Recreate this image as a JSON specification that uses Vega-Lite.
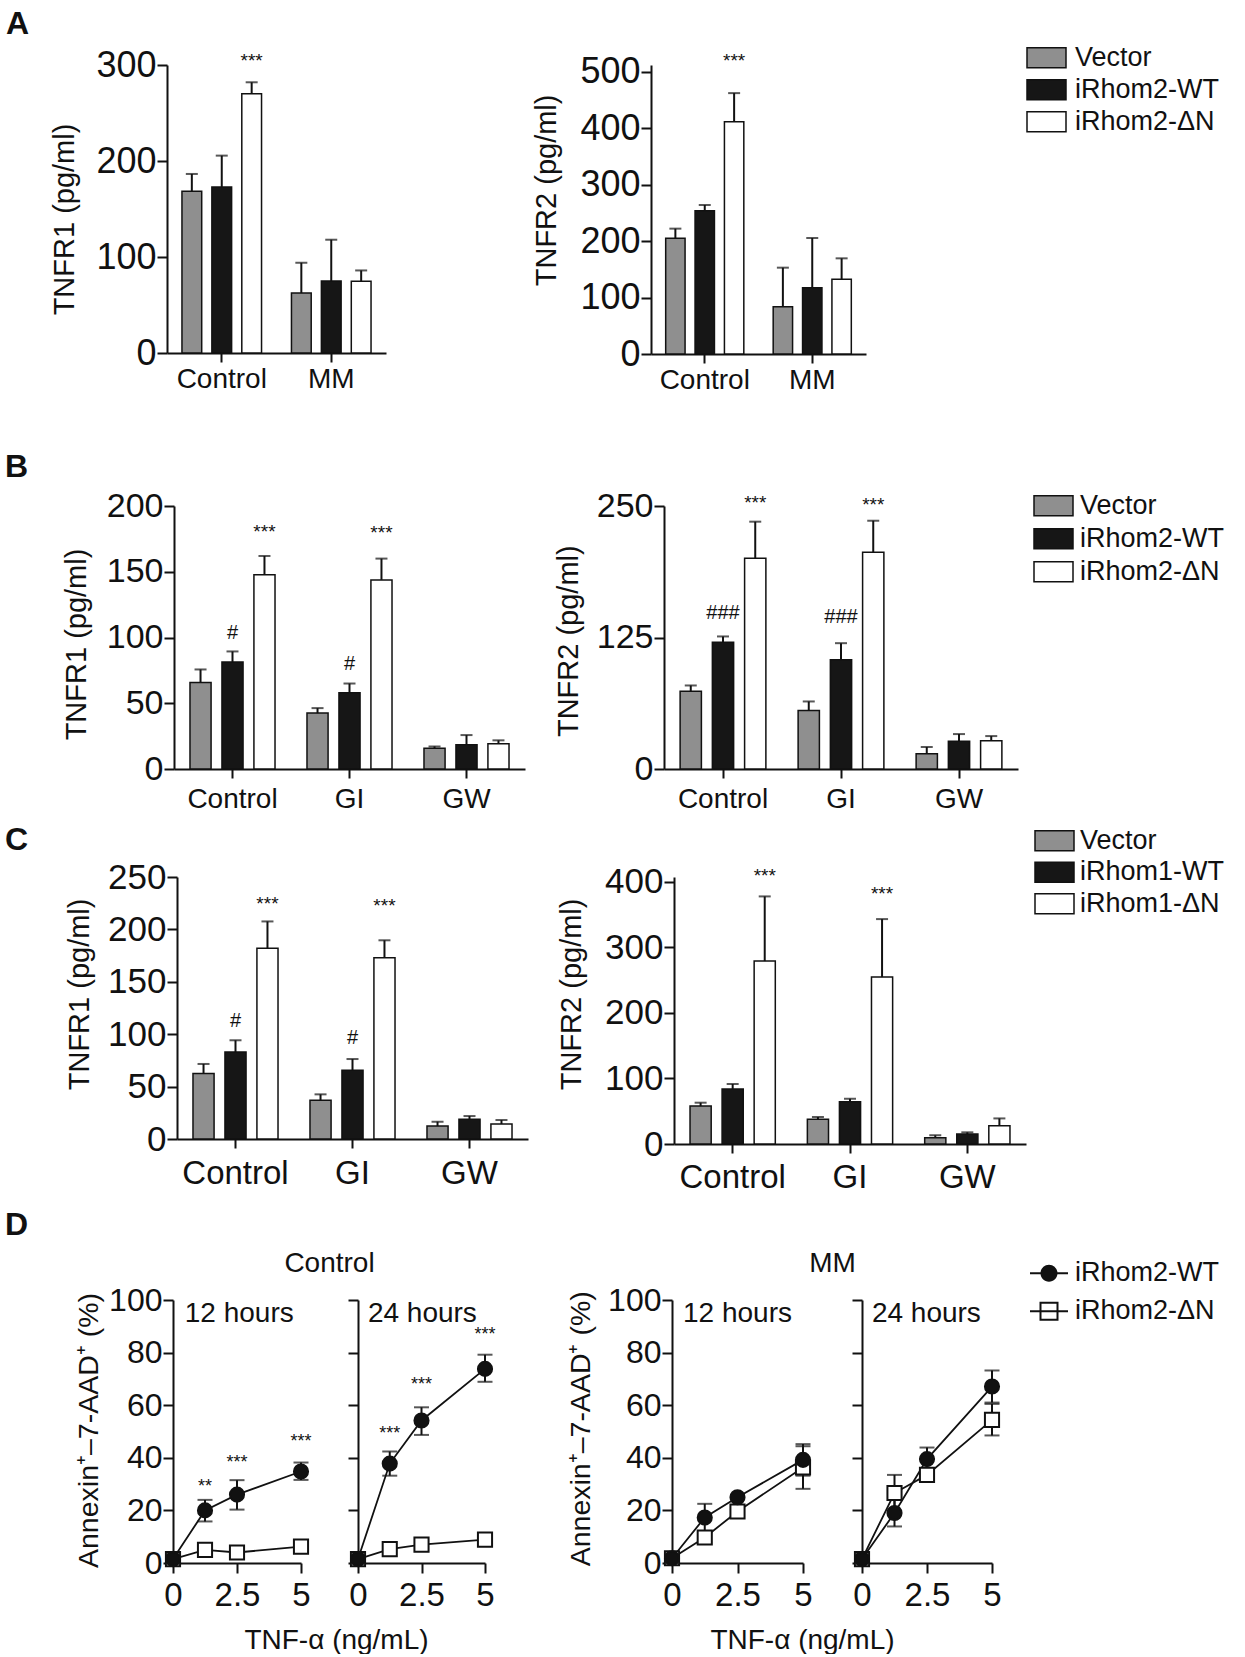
{
"$schema": "https://vega.github.io/schema/vega-lite/v6.json",
"background": "white",
"padding": {"left": 5, "top": 7, "right": 0, "bottom": 0},
"config": {
  "font": "Liberation Sans",
  "view": {"stroke": null},
  "axis": {"domainColor": "#111", "domainWidth": 2, "tickColor": "#111", "tickWidth": 2, "labelColor": "#111", "titleColor": "#111", "titleFontWeight": "normal", "grid": false, "labelFont": "Liberation Sans", "titleFont": "Liberation Sans", "labelOverlap": false, "labelFlush": false, "labelBound": false},
  "axisX": {"labelAngle": 0, "tickSize": 9},
  "axisY": {"tickSize": 10, "labelPadding": 1},
  "text": {"font": "Liberation Sans", "color": "#111"},
  "title": {"font": "Liberation Sans", "color": "#111"}
},
"datasets": {
  "bars": [
    {"p":"A1","g":"Control","s":"Vector","v":168.4,"hi":186.5},
    {"p":"A1","g":"Control","s":"iRhom2-WT","v":172.9,"hi":205.6},
    {"p":"A1","g":"Control","s":"iRhom2-ΔN","v":270.1,"hi":282},
    {"p":"A1","g":"MM","s":"Vector","v":62.5,"hi":94},
    {"p":"A1","g":"MM","s":"iRhom2-WT","v":75,"hi":118},
    {"p":"A1","g":"MM","s":"iRhom2-ΔN","v":74.7,"hi":86},
    {"p":"A2","g":"Control","s":"Vector","v":204.8,"hi":222},
    {"p":"A2","g":"Control","s":"iRhom2-WT","v":253.8,"hi":263.9},
    {"p":"A2","g":"Control","s":"iRhom2-ΔN","v":411.5,"hi":462},
    {"p":"A2","g":"MM","s":"Vector","v":83.8,"hi":152.9},
    {"p":"A2","g":"MM","s":"iRhom2-WT","v":117.5,"hi":205.4},
    {"p":"A2","g":"MM","s":"iRhom2-ΔN","v":132.2,"hi":169.4},
    {"p":"B1","g":"Control","s":"Vector","v":65.8,"hi":75.7},
    {"p":"B1","g":"Control","s":"iRhom2-WT","v":81.3,"hi":89.4},
    {"p":"B1","g":"Control","s":"iRhom2-ΔN","v":147.8,"hi":162},
    {"p":"B1","g":"GI","s":"Vector","v":42.5,"hi":46.3},
    {"p":"B1","g":"GI","s":"iRhom2-WT","v":58,"hi":65},
    {"p":"B1","g":"GI","s":"iRhom2-ΔN","v":143.8,"hi":160},
    {"p":"B1","g":"GW","s":"Vector","v":15.7,"hi":17.2},
    {"p":"B1","g":"GW","s":"iRhom2-WT","v":18.5,"hi":25.8},
    {"p":"B1","g":"GW","s":"iRhom2-ΔN","v":19.2,"hi":21.8},
    {"p":"B2","g":"Control","s":"Vector","v":74,"hi":79.4},
    {"p":"B2","g":"Control","s":"iRhom2-WT","v":120.6,"hi":126},
    {"p":"B2","g":"Control","s":"iRhom2-ΔN","v":200.3,"hi":235.1},
    {"p":"B2","g":"GI","s":"Vector","v":55.7,"hi":64.2},
    {"p":"B2","g":"GI","s":"iRhom2-WT","v":103.8,"hi":119.6},
    {"p":"B2","g":"GI","s":"iRhom2-ΔN","v":206,"hi":236},
    {"p":"B2","g":"GW","s":"Vector","v":14.6,"hi":20.9},
    {"p":"B2","g":"GW","s":"iRhom2-WT","v":26.3,"hi":33.2},
    {"p":"B2","g":"GW","s":"iRhom2-ΔN","v":26.9,"hi":31.3},
    {"p":"C1","g":"Control","s":"Vector","v":62.6,"hi":71.6},
    {"p":"C1","g":"Control","s":"iRhom1-WT","v":83,"hi":94.2},
    {"p":"C1","g":"Control","s":"iRhom1-ΔN","v":182,"hi":207.6},
    {"p":"C1","g":"GI","s":"Vector","v":36.9,"hi":42.6},
    {"p":"C1","g":"GI","s":"iRhom1-WT","v":65.5,"hi":76.3},
    {"p":"C1","g":"GI","s":"iRhom1-ΔN","v":173,"hi":189.6},
    {"p":"C1","g":"GW","s":"Vector","v":12.4,"hi":16.5},
    {"p":"C1","g":"GW","s":"iRhom1-WT","v":18.8,"hi":21.9},
    {"p":"C1","g":"GW","s":"iRhom1-ΔN","v":14.3,"hi":18.1},
    {"p":"C2","g":"Control","s":"Vector","v":57.9,"hi":63},
    {"p":"C2","g":"Control","s":"iRhom1-WT","v":83.9,"hi":91.5},
    {"p":"C2","g":"Control","s":"iRhom1-ΔN","v":279,"hi":377.6},
    {"p":"C2","g":"GI","s":"Vector","v":37.6,"hi":41.2},
    {"p":"C2","g":"GI","s":"iRhom1-WT","v":64.5,"hi":69},
    {"p":"C2","g":"GI","s":"iRhom1-ΔN","v":254.6,"hi":343},
    {"p":"C2","g":"GW","s":"Vector","v":9.7,"hi":13.2},
    {"p":"C2","g":"GW","s":"iRhom1-WT","v":15.2,"hi":17.8},
    {"p":"C2","g":"GW","s":"iRhom1-ΔN","v":28,"hi":39}
  ],
  "sig": [
    {"p":"A1","g":"Control","s":"iRhom2-ΔN","y":304.5,"t":"***"},
    {"p":"A2","g":"Control","s":"iRhom2-ΔN","y":519.4,"t":"***"},
    {"p":"B1","g":"Control","s":"iRhom2-WT","y":103.1,"t":"#"},
    {"p":"B1","g":"Control","s":"iRhom2-ΔN","y":180.5,"t":"***"},
    {"p":"B1","g":"GI","s":"iRhom2-WT","y":79.6,"t":"#"},
    {"p":"B1","g":"GI","s":"iRhom2-ΔN","y":179.5,"t":"***"},
    {"p":"B2","g":"Control","s":"iRhom2-WT","y":147.9,"t":"###"},
    {"p":"B2","g":"Control","s":"iRhom2-ΔN","y":253.3,"t":"***"},
    {"p":"B2","g":"GI","s":"iRhom2-WT","y":144.8,"t":"###"},
    {"p":"B2","g":"GI","s":"iRhom2-ΔN","y":251,"t":"***"},
    {"p":"C1","g":"Control","s":"iRhom1-WT","y":112.8,"t":"#"},
    {"p":"C1","g":"Control","s":"iRhom1-ΔN","y":223.8,"t":"***"},
    {"p":"C1","g":"GI","s":"iRhom1-WT","y":96.3,"t":"#"},
    {"p":"C1","g":"GI","s":"iRhom1-ΔN","y":222.2,"t":"***"},
    {"p":"C2","g":"Control","s":"iRhom1-ΔN","y":408.7,"t":"***"},
    {"p":"C2","g":"GI","s":"iRhom1-ΔN","y":381.2,"t":"***"}
  ],
  "lines": [
    {"c":"Control","h":12,"s":"iRhom2-ΔN","x":0,"y":1.5},
    {"c":"Control","h":12,"s":"iRhom2-ΔN","x":1.25,"y":5},
    {"c":"Control","h":12,"s":"iRhom2-ΔN","x":2.5,"y":4},
    {"c":"Control","h":12,"s":"iRhom2-ΔN","x":5,"y":6.2},
    {"c":"Control","h":24,"s":"iRhom2-ΔN","x":0,"y":1.5},
    {"c":"Control","h":24,"s":"iRhom2-ΔN","x":1.25,"y":5.3},
    {"c":"Control","h":24,"s":"iRhom2-ΔN","x":2.5,"y":7},
    {"c":"Control","h":24,"s":"iRhom2-ΔN","x":5,"y":8.9},
    {"c":"MM","h":12,"s":"iRhom2-ΔN","x":0,"y":1.8},
    {"c":"MM","h":12,"s":"iRhom2-ΔN","x":1.25,"y":9.7},
    {"c":"MM","h":12,"s":"iRhom2-ΔN","x":2.5,"y":19.6},
    {"c":"MM","h":12,"s":"iRhom2-ΔN","x":5,"y":36.3},
    {"c":"MM","h":24,"s":"iRhom2-ΔN","x":0,"y":1.5},
    {"c":"MM","h":24,"s":"iRhom2-ΔN","x":1.25,"y":26.6},
    {"c":"MM","h":24,"s":"iRhom2-ΔN","x":2.5,"y":33.5},
    {"c":"MM","h":24,"s":"iRhom2-ΔN","x":5,"y":54.4},
    {"c":"Control","h":12,"s":"iRhom2-WT","x":0,"y":1.5},
    {"c":"Control","h":12,"s":"iRhom2-WT","x":1.25,"y":20},
    {"c":"Control","h":12,"s":"iRhom2-WT","x":2.5,"y":26},
    {"c":"Control","h":12,"s":"iRhom2-WT","x":5,"y":34.8},
    {"c":"Control","h":24,"s":"iRhom2-WT","x":0,"y":1.5},
    {"c":"Control","h":24,"s":"iRhom2-WT","x":1.25,"y":37.8},
    {"c":"Control","h":24,"s":"iRhom2-WT","x":2.5,"y":54.2},
    {"c":"Control","h":24,"s":"iRhom2-WT","x":5,"y":73.8},
    {"c":"MM","h":12,"s":"iRhom2-WT","x":0,"y":1.8},
    {"c":"MM","h":12,"s":"iRhom2-WT","x":1.25,"y":17.3},
    {"c":"MM","h":12,"s":"iRhom2-WT","x":2.5,"y":25},
    {"c":"MM","h":12,"s":"iRhom2-WT","x":5,"y":39.2},
    {"c":"MM","h":24,"s":"iRhom2-WT","x":0,"y":1.5},
    {"c":"MM","h":24,"s":"iRhom2-WT","x":1.25,"y":19},
    {"c":"MM","h":24,"s":"iRhom2-WT","x":2.5,"y":39.5},
    {"c":"MM","h":24,"s":"iRhom2-WT","x":5,"y":67.1}
  ],
  "errs": [
    {"c":"Control","h":12,"s":"iRhom2-WT","x":1.25,"lo":15.8,"hi":24},
    {"c":"Control","h":12,"s":"iRhom2-WT","x":2.5,"lo":20.3,"hi":31.5},
    {"c":"Control","h":12,"s":"iRhom2-WT","x":5,"lo":31.6,"hi":38.2},
    {"c":"Control","h":24,"s":"iRhom2-WT","x":1.25,"lo":33.2,"hi":42.4},
    {"c":"Control","h":24,"s":"iRhom2-WT","x":2.5,"lo":48.7,"hi":59.2},
    {"c":"Control","h":24,"s":"iRhom2-WT","x":5,"lo":68.9,"hi":79.2},
    {"c":"MM","h":12,"s":"iRhom2-WT","x":1.25,"lo":12.1,"hi":22.5},
    {"c":"MM","h":12,"s":"iRhom2-WT","x":5,"lo":33.2,"hi":45.2},
    {"c":"MM","h":12,"s":"iRhom2-ΔN","x":5,"lo":28.2,"hi":44.4},
    {"c":"MM","h":24,"s":"iRhom2-WT","x":1.25,"lo":13.9,"hi":24.1},
    {"c":"MM","h":24,"s":"iRhom2-WT","x":2.5,"lo":35.1,"hi":43.9},
    {"c":"MM","h":24,"s":"iRhom2-WT","x":5,"lo":61,"hi":73.2},
    {"c":"MM","h":24,"s":"iRhom2-ΔN","x":1.25,"lo":19.7,"hi":33.5},
    {"c":"MM","h":24,"s":"iRhom2-ΔN","x":5,"lo":48.5,"hi":60.5}
  ],
  "dsig": [
    {"c":"Control","h":12,"x":1.25,"y":28.9,"t":"**"},
    {"c":"Control","h":12,"x":2.5,"y":38,"t":"***"},
    {"c":"Control","h":12,"x":5,"y":45.9,"t":"***"},
    {"c":"Control","h":24,"x":1.25,"y":49,"t":"***"},
    {"c":"Control","h":24,"x":2.5,"y":67.7,"t":"***"},
    {"c":"Control","h":24,"x":5,"y":86.7,"t":"***"}
  ],
  "hours": [
    {"c":"Control","h":12,"x":0.46,"y":91.6,"t":"12 hours"},
    {"c":"Control","h":24,"x":0.39,"y":91.6,"t":"24 hours"},
    {"c":"MM","h":12,"x":0.42,"y":91.6,"t":"12 hours"},
    {"c":"MM","h":24,"x":0.38,"y":91.6,"t":"24 hours"}
  ]
},
"resolve": {"scale": {"color": "independent", "xOffset": "independent", "shape": "independent", "fill": "independent"}},
"spacing": 0,
"vconcat": [
 {"hconcat": [
  {"width": 7, "height": 1, "data": {"values": []}, "mark": "point",
   "title": {"text": "A", "fontSize": 32, "fontWeight": "bold", "anchor": "start", "frame": "group", "offset": 24.3, "dx": -154}},
  {"width": 219, "height": 288,
   "encoding": {
     "x": {"field": "g", "type": "nominal", "scale": {"domain": ["Control","MM"], "paddingInner": 0, "paddingOuter": 0}, "axis": {"title": null, "labelFontSize": 28, "labelPadding": 3, "tickSize": 9, "ticks": true, "bandPosition": 0.5}},
     "xOffset": {"field": "s", "type": "nominal", "scale": {"domain": ["Vector","iRhom2-WT","iRhom2-ΔN"], "paddingInner": 0.34, "paddingOuter": 0.5}}
   },
   "layer": [
     {"data": {"name": "bars"}, "transform": [{"filter": "datum.p === 'A1'"}],
      "mark": {"type": "bar", "stroke": "#111", "strokeWidth": 1.5},
      "encoding": {
        "y": {"field": "v", "type": "quantitative", "scale": {"domain": [0, 300], "nice": false}, "axis": {"values": [0,100,200,300], "title": "TNFR1 (pg/ml)", "labelFontSize": 36, "titleFontSize": 29, "titlePadding": 16.4, "titleY": 154}},
        "color": {"field": "s", "type": "nominal", "scale": {"domain": ["Vector","iRhom2-WT","iRhom2-ΔN"], "range": ["#8f8f8f","#161616","#ffffff"]}, "legend": null}
      }},
     {"data": {"name": "bars"}, "transform": [{"filter": "datum.p === 'A1'"}],
      "mark": {"type": "rule", "color": "#111", "strokeWidth": 2},
      "encoding": {"y": {"field": "v", "type": "quantitative"}, "y2": {"field": "hi"}}},
     {"data": {"name": "bars"}, "transform": [{"filter": "datum.p === 'A1'"}],
      "mark": {"type": "tick", "color": "#111", "size": 12, "thickness": 2, "orient": "horizontal"},
      "encoding": {"y": {"field": "hi", "type": "quantitative"}}},
     {"data": {"name": "sig"}, "transform": [{"filter": "datum.p === 'A1'"}],
      "mark": {"type": "text", "fontSize": 19, "baseline": "middle"},
      "encoding": {"y": {"field": "y", "type": "quantitative"}, "text": {"field": "t"}}}
   ]},
  {"width": 265, "height": 385.4, "data": {"values": []}, "mark": "point"},
  {"width": 215, "height": 289,
   "encoding": {
     "x": {"field": "g", "type": "nominal", "scale": {"domain": ["Control","MM"], "paddingInner": 0, "paddingOuter": 0}, "axis": {"title": null, "labelFontSize": 28, "labelPadding": 3, "tickSize": 9, "ticks": true, "bandPosition": 0.5}},
     "xOffset": {"field": "s", "type": "nominal", "scale": {"domain": ["Vector","iRhom2-WT","iRhom2-ΔN"], "paddingInner": 0.34, "paddingOuter": 0.5}}
   },
   "layer": [
     {"data": {"name": "bars"}, "transform": [{"filter": "datum.p === 'A2'"}],
      "mark": {"type": "bar", "stroke": "#111", "strokeWidth": 1.5},
      "encoding": {
        "y": {"field": "v", "type": "quantitative", "scale": {"domain": [0, 511.8], "nice": false}, "axis": {"values": [0,100,200,300,400,500], "title": "TNFR2 (pg/ml)", "labelFontSize": 36, "titleFontSize": 29, "titlePadding": 18.1, "titleY": 124.9}},
        "color": {"field": "s", "type": "nominal", "scale": {"domain": ["Vector","iRhom2-WT","iRhom2-ΔN"], "range": ["#8f8f8f","#161616","#ffffff"]},
          "legend": {"title": null, "orient": "none", "legendX": 382, "legendY": -20.8, "padding": 0, "symbolType": "M-1.95,-1H1.95V1H-1.95Z", "symbolSize": 400, "symbolStrokeWidth": 1.5, "symbolStrokeColor": "#111", "labelFontSize": 27, "labelOffset": 15, "rowPadding": 4, "labelFont": "Liberation Sans", "labelColor": "#111", "labelLimit": 400, "symbolOpacity": 1}}
      }},
     {"data": {"name": "bars"}, "transform": [{"filter": "datum.p === 'A2'"}],
      "mark": {"type": "rule", "color": "#111", "strokeWidth": 2},
      "encoding": {"y": {"field": "v", "type": "quantitative"}, "y2": {"field": "hi"}}},
     {"data": {"name": "bars"}, "transform": [{"filter": "datum.p === 'A2'"}],
      "mark": {"type": "tick", "color": "#111", "size": 12, "thickness": 2, "orient": "horizontal"},
      "encoding": {"y": {"field": "hi", "type": "quantitative"}}},
     {"data": {"name": "sig"}, "transform": [{"filter": "datum.p === 'A2'"}],
      "mark": {"type": "text", "fontSize": 19, "baseline": "middle"},
      "encoding": {"y": {"field": "y", "type": "quantitative"}, "text": {"field": "t"}}}
   ]}
 ], "spacing": 0, "bounds": "flush", "resolve": {"scale": {"color": "independent", "xOffset": "independent"}}},

 {"hconcat": [
  {"width": 14, "height": 1, "data": {"values": []}, "mark": "point",
   "title": {"text": "B", "fontSize": 32, "fontWeight": "bold", "anchor": "start", "frame": "group", "offset": 21.9, "dx": -155}},
  {"width": 351, "height": 263,
   "encoding": {
     "x": {"field": "g", "type": "nominal", "scale": {"domain": ["Control","GI","GW"], "paddingInner": 0, "paddingOuter": 0}, "axis": {"title": null, "labelFontSize": 28, "labelPadding": 7, "tickSize": 9, "ticks": true, "bandPosition": 0.5}},
     "xOffset": {"field": "s", "type": "nominal", "scale": {"domain": ["Vector","iRhom2-WT","iRhom2-ΔN"], "paddingInner": 0.34, "paddingOuter": 0.5}}
   },
   "layer": [
     {"data": {"name": "bars"}, "transform": [{"filter": "datum.p === 'B1'"}],
      "mark": {"type": "bar", "stroke": "#111", "strokeWidth": 1.5},
      "encoding": {
        "y": {"field": "v", "type": "quantitative", "scale": {"domain": [0, 200], "nice": false}, "axis": {"values": [0,50,100,150,200], "title": "TNFR1 (pg/ml)", "labelFontSize": 34, "titleFontSize": 29, "titlePadding": 14.4, "titleY": 138}},
        "color": {"field": "s", "type": "nominal", "scale": {"domain": ["Vector","iRhom2-WT","iRhom2-ΔN"], "range": ["#8f8f8f","#161616","#ffffff"]}, "legend": null}
      }},
     {"data": {"name": "bars"}, "transform": [{"filter": "datum.p === 'B1'"}],
      "mark": {"type": "rule", "color": "#111", "strokeWidth": 2},
      "encoding": {"y": {"field": "v", "type": "quantitative"}, "y2": {"field": "hi"}}},
     {"data": {"name": "bars"}, "transform": [{"filter": "datum.p === 'B1'"}],
      "mark": {"type": "tick", "color": "#111", "size": 12, "thickness": 2, "orient": "horizontal"},
      "encoding": {"y": {"field": "hi", "type": "quantitative"}}},
     {"data": {"name": "sig"}, "transform": [{"filter": "datum.p === 'B1' && datum.t === '***'"}],
      "mark": {"type": "text", "fontSize": 19, "baseline": "middle"},
      "encoding": {"y": {"field": "y", "type": "quantitative"}, "text": {"field": "t"}}},
     {"data": {"name": "sig"}, "transform": [{"filter": "datum.p === 'B1' && datum.t !== '***'"}],
      "mark": {"type": "text", "fontSize": 20, "baseline": "middle"},
      "encoding": {"y": {"field": "y", "type": "quantitative"}, "text": {"field": "t"}}}
   ]},
  {"width": 139, "height": 318, "data": {"values": []}, "mark": "point"},
  {"width": 354, "height": 263,
   "encoding": {
     "x": {"field": "g", "type": "nominal", "scale": {"domain": ["Control","GI","GW"], "paddingInner": 0, "paddingOuter": 0}, "axis": {"title": null, "labelFontSize": 28, "labelPadding": 7, "tickSize": 9, "ticks": true, "bandPosition": 0.5}},
     "xOffset": {"field": "s", "type": "nominal", "scale": {"domain": ["Vector","iRhom2-WT","iRhom2-ΔN"], "paddingInner": 0.34, "paddingOuter": 0.5}}
   },
   "layer": [
     {"data": {"name": "bars"}, "transform": [{"filter": "datum.p === 'B2'"}],
      "mark": {"type": "bar", "stroke": "#111", "strokeWidth": 1.5},
      "encoding": {
        "y": {"field": "v", "type": "quantitative", "scale": {"domain": [0, 250], "nice": false}, "axis": {"values": [0,125,250], "title": "TNFR2 (pg/ml)", "labelFontSize": 34, "titleFontSize": 29, "titlePadding": 13, "titleY": 134.7}},
        "color": {"field": "s", "type": "nominal", "scale": {"domain": ["Vector","iRhom2-WT","iRhom2-ΔN"], "range": ["#8f8f8f","#161616","#ffffff"]},
          "legend": {"title": null, "orient": "none", "legendX": 376, "legendY": -13.8, "padding": 0, "symbolType": "M-1.95,-1H1.95V1H-1.95Z", "symbolSize": 400, "symbolStrokeWidth": 1.5, "symbolStrokeColor": "#111", "labelFontSize": 27, "labelOffset": 13, "rowPadding": 5, "labelFont": "Liberation Sans", "labelColor": "#111", "labelLimit": 400, "symbolOpacity": 1}}
      }},
     {"data": {"name": "bars"}, "transform": [{"filter": "datum.p === 'B2'"}],
      "mark": {"type": "rule", "color": "#111", "strokeWidth": 2},
      "encoding": {"y": {"field": "v", "type": "quantitative"}, "y2": {"field": "hi"}}},
     {"data": {"name": "bars"}, "transform": [{"filter": "datum.p === 'B2'"}],
      "mark": {"type": "tick", "color": "#111", "size": 12, "thickness": 2, "orient": "horizontal"},
      "encoding": {"y": {"field": "hi", "type": "quantitative"}}},
     {"data": {"name": "sig"}, "transform": [{"filter": "datum.p === 'B2' && datum.t === '***'"}],
      "mark": {"type": "text", "fontSize": 19, "baseline": "middle"},
      "encoding": {"y": {"field": "y", "type": "quantitative"}, "text": {"field": "t"}}},
     {"data": {"name": "sig"}, "transform": [{"filter": "datum.p === 'B2' && datum.t !== '***'"}],
      "mark": {"type": "text", "fontSize": 20, "baseline": "middle"},
      "encoding": {"y": {"field": "y", "type": "quantitative"}, "text": {"field": "t"}}}
   ]}
 ], "spacing": 0, "bounds": "flush", "resolve": {"scale": {"color": "independent", "xOffset": "independent"}}},

 {"hconcat": [
  {"width": 17, "height": 1, "data": {"values": []}, "mark": "point",
   "title": {"text": "C", "fontSize": 32, "fontWeight": "bold", "anchor": "start", "frame": "group", "offset": 19.8, "dx": -155}},
  {"width": 351, "height": 262,
   "encoding": {
     "x": {"field": "g", "type": "nominal", "scale": {"domain": ["Control","GI","GW"], "paddingInner": 0, "paddingOuter": 0}, "axis": {"title": null, "labelFontSize": 33, "labelPadding": 9, "tickSize": 9, "ticks": true, "bandPosition": 0.5}},
     "xOffset": {"field": "s", "type": "nominal", "scale": {"domain": ["Vector","iRhom1-WT","iRhom1-ΔN"], "paddingInner": 0.34, "paddingOuter": 0.5}}
   },
   "layer": [
     {"data": {"name": "bars"}, "transform": [{"filter": "datum.p === 'C1'"}],
      "mark": {"type": "bar", "stroke": "#111", "strokeWidth": 1.5},
      "encoding": {
        "y": {"field": "v", "type": "quantitative", "scale": {"domain": [0, 250], "nice": false}, "axis": {"values": [0,50,100,150,200,250], "title": "TNFR1 (pg/ml)", "labelFontSize": 35, "titleFontSize": 29, "titlePadding": 12.7, "titleY": 116.9}},
        "color": {"field": "s", "type": "nominal", "scale": {"domain": ["Vector","iRhom1-WT","iRhom1-ΔN"], "range": ["#8f8f8f","#161616","#ffffff"]}, "legend": null}
      }},
     {"data": {"name": "bars"}, "transform": [{"filter": "datum.p === 'C1'"}],
      "mark": {"type": "rule", "color": "#111", "strokeWidth": 2},
      "encoding": {"y": {"field": "v", "type": "quantitative"}, "y2": {"field": "hi"}}},
     {"data": {"name": "bars"}, "transform": [{"filter": "datum.p === 'C1'"}],
      "mark": {"type": "tick", "color": "#111", "size": 12, "thickness": 2, "orient": "horizontal"},
      "encoding": {"y": {"field": "hi", "type": "quantitative"}}},
     {"data": {"name": "sig"}, "transform": [{"filter": "datum.p === 'C1' && datum.t === '***'"}],
      "mark": {"type": "text", "fontSize": 19, "baseline": "middle"},
      "encoding": {"y": {"field": "y", "type": "quantitative"}, "text": {"field": "t"}}},
     {"data": {"name": "sig"}, "transform": [{"filter": "datum.p === 'C1' && datum.t !== '***'"}],
      "mark": {"type": "text", "fontSize": 20, "baseline": "middle"},
      "encoding": {"y": {"field": "y", "type": "quantitative"}, "text": {"field": "t"}}}
   ]},
  {"width": 146, "height": 331, "data": {"values": []}, "mark": "point"},
  {"width": 352, "height": 267,
   "encoding": {
     "x": {"field": "g", "type": "nominal", "scale": {"domain": ["Control","GI","GW"], "paddingInner": 0, "paddingOuter": 0}, "axis": {"title": null, "labelFontSize": 33, "labelPadding": 8, "tickSize": 9, "ticks": true, "bandPosition": 0.5}},
     "xOffset": {"field": "s", "type": "nominal", "scale": {"domain": ["Vector","iRhom1-WT","iRhom1-ΔN"], "paddingInner": 0.34, "paddingOuter": 0.5}}
   },
   "layer": [
     {"data": {"name": "bars"}, "transform": [{"filter": "datum.p === 'C2'"}],
      "mark": {"type": "bar", "stroke": "#111", "strokeWidth": 1.5},
      "encoding": {
        "y": {"field": "v", "type": "quantitative", "scale": {"domain": [0, 407.2], "nice": false}, "axis": {"values": [0,100,200,300,400], "title": "TNFR2 (pg/ml)", "labelFontSize": 35, "titleFontSize": 29, "titlePadding": 18, "titleY": 116.9}},
        "color": {"field": "s", "type": "nominal", "scale": {"domain": ["Vector","iRhom1-WT","iRhom1-ΔN"], "range": ["#8f8f8f","#161616","#ffffff"]},
          "legend": {"title": null, "orient": "none", "legendX": 367, "legendY": -49.8, "padding": 0, "symbolType": "M-1.95,-1H1.95V1H-1.95Z", "symbolSize": 400, "symbolStrokeWidth": 1.5, "symbolStrokeColor": "#111", "labelFontSize": 27, "labelOffset": 12, "rowPadding": 3.5, "labelFont": "Liberation Sans", "labelColor": "#111", "labelLimit": 400, "symbolOpacity": 1}}
      }},
     {"data": {"name": "bars"}, "transform": [{"filter": "datum.p === 'C2'"}],
      "mark": {"type": "rule", "color": "#111", "strokeWidth": 2},
      "encoding": {"y": {"field": "v", "type": "quantitative"}, "y2": {"field": "hi"}}},
     {"data": {"name": "bars"}, "transform": [{"filter": "datum.p === 'C2'"}],
      "mark": {"type": "tick", "color": "#111", "size": 12, "thickness": 2, "orient": "horizontal"},
      "encoding": {"y": {"field": "hi", "type": "quantitative"}}},
     {"data": {"name": "sig"}, "transform": [{"filter": "datum.p === 'C2'"}],
      "mark": {"type": "text", "fontSize": 19, "baseline": "middle"},
      "encoding": {"y": {"field": "y", "type": "quantitative"}, "text": {"field": "t"}}}
   ]}
 ], "spacing": 0, "bounds": "flush", "resolve": {"scale": {"color": "independent", "xOffset": "independent"}}},

 {"hconcat": [
  {"width": 13, "height": 1, "data": {"values": []}, "mark": "point",
   "title": {"text": "D", "fontSize": 32, "fontWeight": "bold", "anchor": "start", "frame": "group", "offset": 58.3, "dx": -155}},
  {"width": 128, "height": 263,
   "layer": [
     {"data": {"name": "lines"}, "transform": [{"filter": "datum.c === 'Control' && datum.h === 12"}],
      "mark": {"type": "line", "color": "#111", "strokeWidth": 1.8},
      "encoding": {
        "x": {"field": "x", "type": "quantitative", "scale": {"domain": [0, 5], "nice": false}, "axis": {"values": [0, 2.5, 5], "format": ".2~g", "labelFontSize": 33, "tickSize": 10, "labelPadding": 6, "title": "TNF-α (ng/mL)", "titleFontSize": 28, "titleX": 163, "titlePadding": 14}},
        "y": {"field": "y", "type": "quantitative", "scale": {"domain": [0, 100], "nice": false}, "axis": {"values": [0,20,40,60,80,100], "labelFontSize": 32, "title": "Annexin⁺–7-AAD⁺ (%)", "titleFontSize": 28.5, "titlePadding": 5.6, "titleY": 130}},
        "detail": {"field": "s"}
      }},
     {"data": {"name": "errs"}, "transform": [{"filter": "datum.c === 'Control' && datum.h === 12"}],
      "mark": {"type": "rule", "color": "#111", "strokeWidth": 2},
      "encoding": {"x": {"field": "x", "type": "quantitative"}, "y": {"field": "lo", "type": "quantitative"}, "y2": {"field": "hi"}}},
     {"data": {"name": "errs"}, "transform": [{"filter": "datum.c === 'Control' && datum.h === 12"}],
      "mark": {"type": "tick", "color": "#111", "size": 15, "thickness": 2, "orient": "horizontal"},
      "encoding": {"x": {"field": "x", "type": "quantitative"}, "y": {"field": "lo", "type": "quantitative"}}},
     {"data": {"name": "errs"}, "transform": [{"filter": "datum.c === 'Control' && datum.h === 12"}],
      "mark": {"type": "tick", "color": "#111", "size": 15, "thickness": 2, "orient": "horizontal"},
      "encoding": {"x": {"field": "x", "type": "quantitative"}, "y": {"field": "hi", "type": "quantitative"}}},
     {"data": {"name": "lines"}, "transform": [{"filter": "datum.c === 'Control' && datum.h === 12"}],
      "mark": {"type": "point", "filled": true, "size": 200, "stroke": "#111", "strokeWidth": 2, "opacity": 1},
      "encoding": {"x": {"field": "x", "type": "quantitative"}, "y": {"field": "y", "type": "quantitative"},
        "shape": {"field": "s", "type": "nominal", "scale": {"domain": ["iRhom2-WT","iRhom2-ΔN"], "range": ["circle","square"]}, "legend": null},
        "fill": {"field": "s", "type": "nominal", "scale": {"domain": ["iRhom2-WT","iRhom2-ΔN"], "range": ["#111111","#ffffff"]}, "legend": null}}},
     {"data": {"name": "hours"}, "transform": [{"filter": "datum.c === 'Control' && datum.h === 12"}],
      "mark": {"type": "text", "fontSize": 28, "align": "left", "baseline": "alphabetic"},
      "encoding": {"x": {"field": "x", "type": "quantitative"}, "y": {"field": "y", "type": "quantitative"}, "text": {"field": "t"}}},
     {"data": {"name": "dsig"}, "transform": [{"filter": "datum.c === 'Control' && datum.h === 12"}],
      "mark": {"type": "text", "fontSize": 18, "baseline": "middle"},
      "encoding": {"x": {"field": "x", "type": "quantitative"}, "y": {"field": "y", "type": "quantitative"}, "text": {"field": "t"}}}
   ]},
  {"width": 57, "height": 263, "data": {"values": []}, "mark": "point",
   "title": {"text": "Control", "fontSize": 28, "fontWeight": "normal", "anchor": "middle", "frame": "group", "offset": 22.5}},
  {"width": 127, "height": 263,
   "layer": [
     {"data": {"name": "lines"}, "transform": [{"filter": "datum.c === 'Control' && datum.h === 24"}],
      "mark": {"type": "line", "color": "#111", "strokeWidth": 1.8},
      "encoding": {
        "x": {"field": "x", "type": "quantitative", "scale": {"domain": [0, 5], "nice": false}, "axis": {"values": [0, 2.5, 5], "format": ".2~g", "labelFontSize": 33, "tickSize": 10, "labelPadding": 6, "title": null}},
        "y": {"field": "y", "type": "quantitative", "scale": {"domain": [0, 100], "nice": false}, "axis": {"values": [0,20,40,60,80,100], "labels": false, "title": null}},
        "detail": {"field": "s"}
      }},
     {"data": {"name": "errs"}, "transform": [{"filter": "datum.c === 'Control' && datum.h === 24"}],
      "mark": {"type": "rule", "color": "#111", "strokeWidth": 2},
      "encoding": {"x": {"field": "x", "type": "quantitative"}, "y": {"field": "lo", "type": "quantitative"}, "y2": {"field": "hi"}}},
     {"data": {"name": "errs"}, "transform": [{"filter": "datum.c === 'Control' && datum.h === 24"}],
      "mark": {"type": "tick", "color": "#111", "size": 15, "thickness": 2, "orient": "horizontal"},
      "encoding": {"x": {"field": "x", "type": "quantitative"}, "y": {"field": "lo", "type": "quantitative"}}},
     {"data": {"name": "errs"}, "transform": [{"filter": "datum.c === 'Control' && datum.h === 24"}],
      "mark": {"type": "tick", "color": "#111", "size": 15, "thickness": 2, "orient": "horizontal"},
      "encoding": {"x": {"field": "x", "type": "quantitative"}, "y": {"field": "hi", "type": "quantitative"}}},
     {"data": {"name": "lines"}, "transform": [{"filter": "datum.c === 'Control' && datum.h === 24"}],
      "mark": {"type": "point", "filled": true, "size": 200, "stroke": "#111", "strokeWidth": 2, "opacity": 1},
      "encoding": {"x": {"field": "x", "type": "quantitative"}, "y": {"field": "y", "type": "quantitative"},
        "shape": {"field": "s", "type": "nominal", "scale": {"domain": ["iRhom2-WT","iRhom2-ΔN"], "range": ["circle","square"]}, "legend": null},
        "fill": {"field": "s", "type": "nominal", "scale": {"domain": ["iRhom2-WT","iRhom2-ΔN"], "range": ["#111111","#ffffff"]}, "legend": null}}},
     {"data": {"name": "hours"}, "transform": [{"filter": "datum.c === 'Control' && datum.h === 24"}],
      "mark": {"type": "text", "fontSize": 28, "align": "left", "baseline": "alphabetic"},
      "encoding": {"x": {"field": "x", "type": "quantitative"}, "y": {"field": "y", "type": "quantitative"}, "text": {"field": "t"}}},
     {"data": {"name": "dsig"}, "transform": [{"filter": "datum.c === 'Control' && datum.h === 24"}],
      "mark": {"type": "text", "fontSize": 18, "baseline": "middle"},
      "encoding": {"x": {"field": "x", "type": "quantitative"}, "y": {"field": "y", "type": "quantitative"}, "text": {"field": "t"}}}
   ]},
  {"width": 187, "height": 1, "data": {"values": []}, "mark": "point"},
  {"width": 131, "height": 263,
   "layer": [
     {"data": {"name": "lines"}, "transform": [{"filter": "datum.c === 'MM' && datum.h === 12"}],
      "mark": {"type": "line", "color": "#111", "strokeWidth": 1.8},
      "encoding": {
        "x": {"field": "x", "type": "quantitative", "scale": {"domain": [0, 5], "nice": false}, "axis": {"values": [0, 2.5, 5], "format": ".2~g", "labelFontSize": 33, "tickSize": 10, "labelPadding": 6, "title": "TNF-α (ng/mL)", "titleFontSize": 28, "titleX": 130, "titlePadding": 14}},
        "y": {"field": "y", "type": "quantitative", "scale": {"domain": [0, 100], "nice": false}, "axis": {"values": [0,20,40,60,80,100], "labelFontSize": 32, "title": "Annexin⁺–7-AAD⁺ (%)", "titleFontSize": 28.5, "titlePadding": 12.3, "titleY": 128.3}},
        "detail": {"field": "s"}
      }},
     {"data": {"name": "errs"}, "transform": [{"filter": "datum.c === 'MM' && datum.h === 12"}],
      "mark": {"type": "rule", "color": "#111", "strokeWidth": 2},
      "encoding": {"x": {"field": "x", "type": "quantitative"}, "y": {"field": "lo", "type": "quantitative"}, "y2": {"field": "hi"}}},
     {"data": {"name": "errs"}, "transform": [{"filter": "datum.c === 'MM' && datum.h === 12"}],
      "mark": {"type": "tick", "color": "#111", "size": 15, "thickness": 2, "orient": "horizontal"},
      "encoding": {"x": {"field": "x", "type": "quantitative"}, "y": {"field": "lo", "type": "quantitative"}}},
     {"data": {"name": "errs"}, "transform": [{"filter": "datum.c === 'MM' && datum.h === 12"}],
      "mark": {"type": "tick", "color": "#111", "size": 15, "thickness": 2, "orient": "horizontal"},
      "encoding": {"x": {"field": "x", "type": "quantitative"}, "y": {"field": "hi", "type": "quantitative"}}},
     {"data": {"name": "lines"}, "transform": [{"filter": "datum.c === 'MM' && datum.h === 12"}],
      "mark": {"type": "point", "filled": true, "size": 200, "stroke": "#111", "strokeWidth": 2, "opacity": 1},
      "encoding": {"x": {"field": "x", "type": "quantitative"}, "y": {"field": "y", "type": "quantitative"},
        "shape": {"field": "s", "type": "nominal", "scale": {"domain": ["iRhom2-WT","iRhom2-ΔN"], "range": ["circle","square"]}, "legend": null},
        "fill": {"field": "s", "type": "nominal", "scale": {"domain": ["iRhom2-WT","iRhom2-ΔN"], "range": ["#111111","#ffffff"]}, "legend": null}}},
     {"data": {"name": "hours"}, "transform": [{"filter": "datum.c === 'MM' && datum.h === 12"}],
      "mark": {"type": "text", "fontSize": 28, "align": "left", "baseline": "alphabetic"},
      "encoding": {"x": {"field": "x", "type": "quantitative"}, "y": {"field": "y", "type": "quantitative"}, "text": {"field": "t"}}}
   ]},
  {"width": 59, "height": 263, "data": {"values": []}, "mark": "point",
   "title": {"text": "MM", "fontSize": 28, "fontWeight": "normal", "anchor": "middle", "frame": "group", "offset": 22.5}},
  {"width": 130, "height": 263,
   "resolve": {"scale": {"shape": "independent", "fill": "independent"}},
   "layer": [
     {"data": {"name": "lines"}, "transform": [{"filter": "datum.c === 'MM' && datum.h === 24"}],
      "mark": {"type": "line", "color": "#111", "strokeWidth": 1.8},
      "encoding": {
        "x": {"field": "x", "type": "quantitative", "scale": {"domain": [0, 5], "nice": false}, "axis": {"values": [0, 2.5, 5], "format": ".2~g", "labelFontSize": 33, "tickSize": 10, "labelPadding": 6, "title": null}},
        "y": {"field": "y", "type": "quantitative", "scale": {"domain": [0, 100], "nice": false}, "axis": {"values": [0,20,40,60,80,100], "labels": false, "title": null}},
        "detail": {"field": "s"}
      }},
     {"data": {"name": "errs"}, "transform": [{"filter": "datum.c === 'MM' && datum.h === 24"}],
      "mark": {"type": "rule", "color": "#111", "strokeWidth": 2},
      "encoding": {"x": {"field": "x", "type": "quantitative"}, "y": {"field": "lo", "type": "quantitative"}, "y2": {"field": "hi"}}},
     {"data": {"name": "errs"}, "transform": [{"filter": "datum.c === 'MM' && datum.h === 24"}],
      "mark": {"type": "tick", "color": "#111", "size": 15, "thickness": 2, "orient": "horizontal"},
      "encoding": {"x": {"field": "x", "type": "quantitative"}, "y": {"field": "lo", "type": "quantitative"}}},
     {"data": {"name": "errs"}, "transform": [{"filter": "datum.c === 'MM' && datum.h === 24"}],
      "mark": {"type": "tick", "color": "#111", "size": 15, "thickness": 2, "orient": "horizontal"},
      "encoding": {"x": {"field": "x", "type": "quantitative"}, "y": {"field": "hi", "type": "quantitative"}}},
     {"data": {"name": "lines"}, "transform": [{"filter": "datum.c === 'MM' && datum.h === 24"}],
      "mark": {"type": "point", "filled": true, "size": 200, "stroke": "#111", "strokeWidth": 2, "opacity": 1},
      "encoding": {"x": {"field": "x", "type": "quantitative"}, "y": {"field": "y", "type": "quantitative"},
        "shape": {"field": "s", "type": "nominal", "scale": {"domain": ["iRhom2-WT","iRhom2-ΔN"], "range": ["circle","square"]}, "legend": null},
        "fill": {"field": "s", "type": "nominal", "scale": {"domain": ["iRhom2-WT","iRhom2-ΔN"], "range": ["#111111","#ffffff"]}, "legend": null}}},
     {"data": {"name": "lines"}, "transform": [{"filter": "false"}],
      "mark": {"type": "point", "filled": true, "color": "#111111", "size": 400, "strokeWidth": 0, "opacity": 1},
      "encoding": {"x": {"field": "x", "type": "quantitative"}, "y": {"field": "y", "type": "quantitative"},
        "shape": {"field": "s", "type": "nominal", "scale": {"domain": ["iRhom2-WT","iRhom2-ΔN"], "range": ["M-1.9,-0.1H1.9V0.1H-1.9ZM-0.85,0A0.85,0.85,0,1,1,0.85,0A0.85,0.85,0,1,1,-0.85,0Z", "M-1.9,-0.1H1.9V0.1H-1.9ZM-0.95,-0.95H0.95V0.95H-0.95ZM-0.75,-0.75V0.75H0.75V-0.75Z"]},
          "legend": {"title": null, "orient": "none", "legendX": 173.5, "legendY": -40.2, "padding": 0, "symbolSize": 400, "symbolStrokeWidth": 0, "symbolOpacity": 1, "labelFontSize": 27, "labelOffset": 12.5, "rowPadding": 10, "labelFont": "Liberation Sans", "labelColor": "#111", "labelLimit": 400}}}},
     {"data": {"name": "hours"}, "transform": [{"filter": "datum.c === 'MM' && datum.h === 24"}],
      "mark": {"type": "text", "fontSize": 28, "align": "left", "baseline": "alphabetic"},
      "encoding": {"x": {"field": "x", "type": "quantitative"}, "y": {"field": "y", "type": "quantitative"}, "text": {"field": "t"}}}
   ]}
 ], "spacing": 0, "bounds": "flush", "resolve": {"scale": {"shape": "independent", "fill": "independent"}}}
]
}
